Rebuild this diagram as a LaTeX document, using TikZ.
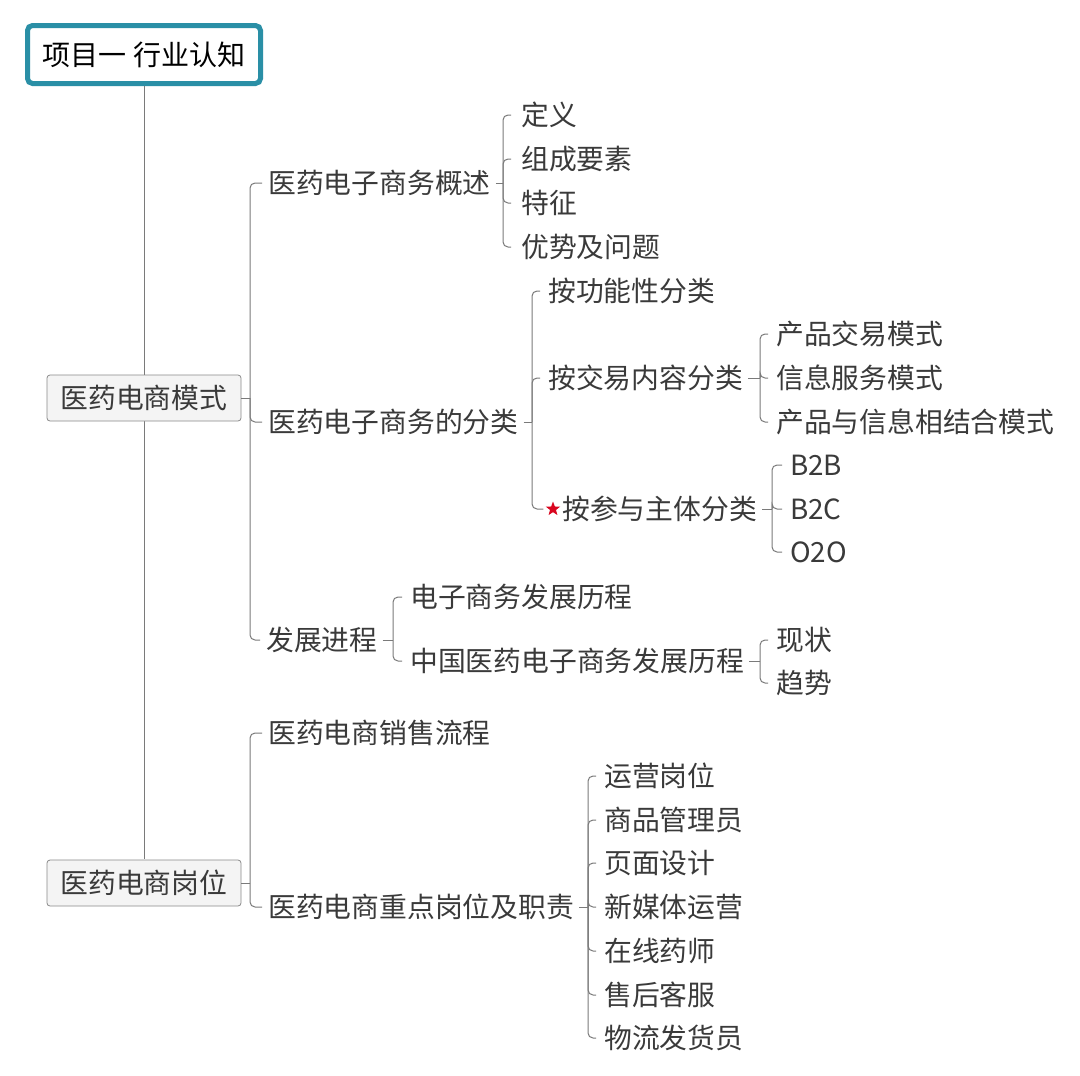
\documentclass[tikz,border=0pt]{standalone}
\usepackage{fontspec}
\setmainfont{Noto Sans CJK SC}
\usetikzlibrary{shapes.geometric}
\definecolor{txt}{HTML}{3A3A3A}
\definecolor{ln}{HTML}{7A7A7A}
\definecolor{teal}{HTML}{2A8FA6}
\definecolor{boxfill}{HTML}{F4F4F4}
\definecolor{boxline}{HTML}{8A8A8A}
\definecolor{starred}{HTML}{D9061F}
\begin{document}
\begin{tikzpicture}[x=1pt,y=-1pt,
  lbl/.style={anchor=west,inner sep=0pt,text=txt,font=\fontsize{27.8}{30}\selectfont},
  rootbox/.style={draw=teal,line width=5pt,rounded corners=5pt,fill=white,minimum width=233pt,minimum height=58pt,inner sep=0pt,font=\fontsize{28}{30}\selectfont,text=black},
  topicbox/.style={draw=boxline,line width=0.8pt,rounded corners=3pt,fill=boxfill,minimum width=194pt,minimum height=46pt,inner sep=0pt,font=\fontsize{27.8}{30}\selectfont,text=txt},
  conn/.style={draw=ln,line width=1pt},
  br/.style={draw=ln,line width=1pt,rounded corners=5pt}
]
\useasboundingbox (0,0) rectangle (1080,1076);
\fill[white] (0,0) rectangle (1080,1076);

% root and topics
\node[rootbox] (root) at (144,54.5) {项目一 行业认知};
\coordinate (t2top) at (144,859);
\draw[conn] (root.south) -- (t2top);
\node[topicbox] (t1) at (144,398) {医药电商模式};
\node[topicbox] (t2) at (144,883) {医药电商岗位};

% level 2
\node[lbl] (a1) at (268,183) {医药电子商务概述};
\node[lbl] (a2) at (268,422) {医药电子商务的分类};
\node[lbl] (a3) at (266,640) {发展进程};
\node[lbl] (b1) at (268,733) {医药电商销售流程};
\node[lbl] (b2) at (268,907) {医药电商重点岗位及职责};

% level 3 under a1
\node[lbl] (a11) at (521,115) {定义};
\node[lbl] (a12) at (521,159) {组成要素};
\node[lbl] (a13) at (521,203) {特征};
\node[lbl] (a14) at (521,247) {优势及问题};

% under a2
\node[lbl] (a21) at (548,291) {按功能性分类};
\node[lbl] (a22) at (548,378) {按交易内容分类};
\node[star,star points=5,star point ratio=2.4,fill=starred,inner sep=0pt,minimum size=15pt] (star) at (553,509) {};
\node[lbl] (a23) at (562,509) {按参与主体分类};

\node[lbl] (a221) at (776,334) {产品交易模式};
\node[lbl] (a222) at (776,378) {信息服务模式};
\node[lbl] (a223) at (776,422) {产品与信息相结合模式};

\node[lbl] (a231) at (790,465) {B2B};
\node[lbl] (a232) at (790,509) {B2C};
\node[lbl] (a233) at (790,552) {O2O};

% under a3
\node[lbl] (a31) at (410,597) {电子商务发展历程};
\node[lbl] (a32) at (410,661) {中国医药电子商务发展历程};
\node[lbl] (a321) at (776,640) {现状};
\node[lbl] (a322) at (776,683) {趋势};

% under b2
\node[lbl] (b21) at (604,776) {运营岗位};
\node[lbl] (b22) at (604,820) {商品管理员};
\node[lbl] (b23) at (604,863) {页面设计};
\node[lbl] (b24) at (604,907) {新媒体运营};
\node[lbl] (b25) at (604,951) {在线药师};
\node[lbl] (b26) at (604,995) {售后客服};
\node[lbl] (b27) at (604,1038) {物流发货员};

% bracket x positions
\coordinate (x1) at (250,0);
\coordinate (xa1) at (503,0);
\coordinate (xa2) at (532,0);
\coordinate (xa22) at (760,0);
\coordinate (xa23) at (772,0);
\coordinate (xa3) at (393,0);
\coordinate (xa32) at (760,0);
\coordinate (xb2) at (588,0);

% connectors
\draw[conn] (t1.east) -- (t1.east -| x1);
\foreach \c in {a1,a2,a3}{\draw[br] (t1.east -| x1) |- ([xshift=-6pt]\c.west);}
\draw[conn] (t2.east) -- (t2.east -| x1);
\foreach \c in {b1,b2}{\draw[br] (t2.east -| x1) |- ([xshift=-6pt]\c.west);}

\draw[conn] ([xshift=5pt]a1.east) -- (a1.east -| xa1);
\foreach \c in {a11,a12,a13,a14}{\draw[br] (a1.east -| xa1) |- ([xshift=-10pt]\c.west);}

\draw[conn] ([xshift=5pt]a2.east) -- (a2.east -| xa2);
\foreach \c in {a21,a22}{\draw[br] (a2.east -| xa2) |- ([xshift=-8pt]\c.west);}
\draw[br] (a2.east -| xa2) |- ([xshift=-5pt]star.west);

\draw[conn] ([xshift=5pt]a22.east) -- (a22.east -| xa22);
\foreach \c in {a221,a222,a223}{\draw[br] (a22.east -| xa22) |- ([xshift=-8pt]\c.west);}

\draw[conn] ([xshift=5pt]a23.east) -- (a23.east -| xa23);
\foreach \c in {a231,a232,a233}{\draw[br] (a23.east -| xa23) |- ([xshift=-8pt]\c.west);}

\draw[conn] ([xshift=5pt]a3.east) -- (a3.east -| xa3);
\foreach \c in {a31,a32}{\draw[br] (a3.east -| xa3) |- ([xshift=-8pt]\c.west);}

\draw[conn] ([xshift=5pt]a32.east) -- (a32.east -| xa32);
\foreach \c in {a321,a322}{\draw[br] (a32.east -| xa32) |- ([xshift=-8pt]\c.west);}

\draw[conn] ([xshift=5pt]b2.east) -- (b2.east -| xb2);
\foreach \c in {b21,b22,b23,b24,b25,b26,b27}{\draw[br] (b2.east -| xb2) |- ([xshift=-8pt]\c.west);}
\end{tikzpicture}
\end{document}
